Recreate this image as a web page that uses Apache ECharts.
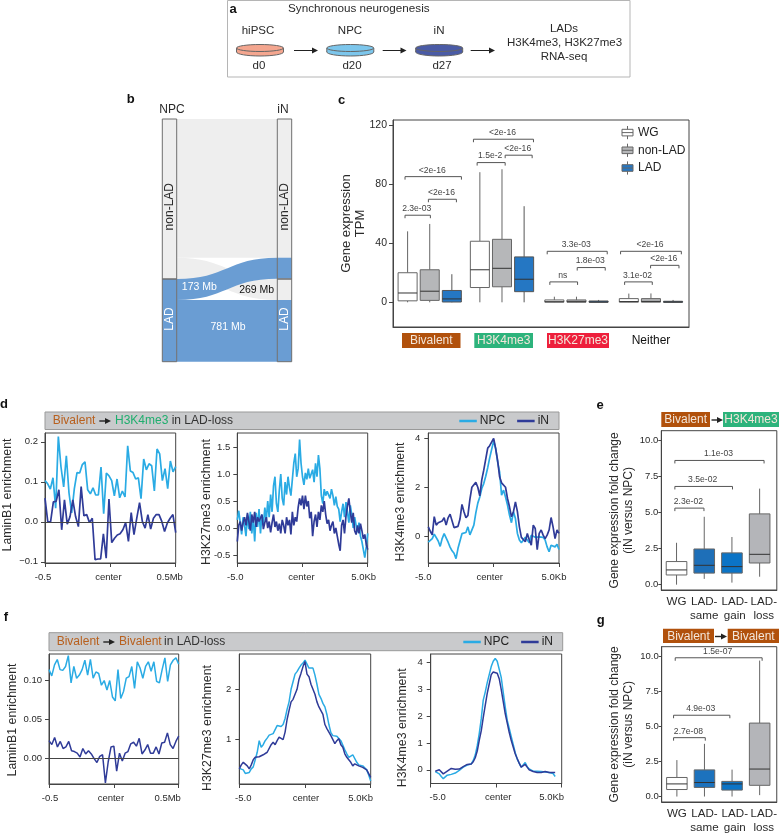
<!DOCTYPE html>
<html><head><meta charset="utf-8">
<style>html,body{margin:0;padding:0;background:#fff}#c{width:780px;height:835px}</style>
<script src="https://cdn.jsdelivr.net/npm/echarts@6/dist/echarts.min.js"></script>
</head><body><div id="c"></div>
<script>
// ---------- data ----------
const sankeyFlowLabels = ['173 Mb','269 Mb','781 Mb'];
const sankeyThickness = [1755, 269, 266, 781];

// panel c: [low, q1, median, q3, high] per group
const cGroups = ['Bivalent','H3K4me3','H3K27me3','Neither'];
const cWG = [[0,1,6.3,20,48],[0,10,22,41.3,88],[0,0.1,0.4,1.6,3.8],[0,0.1,0.5,2.5,5.9]];
const cNon = [[0,1.3,7.5,22,53],[0,10.5,23,42.6,90],[0,0.1,0.4,1.6,3.8],[0,0.1,0.6,2.5,6]];
const cLad = [[0,0.2,2.3,8,19],[0,7.2,15.6,30.7,65],[0,0.05,0.2,0.9,1.6],[0,0.05,0.2,0.7,1.6]];
const cBrackets = [
 [-.335,.43,85,'<2e-16'],[-.018,.362,69.7,'<2e-16'],[-.335,.009,58.9,'2.3e-03'],
 [.593,1.407,110.3,'<2e-16'],[.643,1.023,94.5,'1.5e-2'],[1.023,1.389,99.5,'<2e-16'],
 [1.593,2.407,34.5,'3.3e-03'],[2.0,2.38,23.5,'1.8e-03'],[1.629,2.005,13.8,'ns'],
 [2.588,3.412,34.5,'<2e-16'],[2.995,3.38,25,'<2e-16'],[2.643,3.018,13.8,'3.1e-02']];

// panel d
const d1NPC = [.103,.095,.082,.11,.034,.213,.137,.087,.165,.072,.022,.083,.123,.122,.143,.15,.08,.07,.085,.067,.067,.137,.02,.122,.115,.103,.065,.107,.06,.077,.062,.19,.127,.123,.107,.11,.058,.157,.13,.145,.14,.077,.182,.17,.103,.133,.083,.152,.125,.138];
const d1iN = [.059,0,0,.05,.051,.08,-.02,.055,-.006,.013,.055,.013,-.012,.088,.015,.018,-.002,.009,-.095,-.093,-.093,-.03,-.091,.057,-.052,-.041,-.033,-.03,-.02,-.002,-.049,.023,-.032,.009,.048,.001,-.016,.018,-.018,.009,.018,.018,.001,-.024,-.003,.009,.018,-.027];
const d2NPC = [.15,.32,.1,-.12,.2,.05,-.15,.25,-.02,.3,-.1,.18,-.25,.28,.02,.35,-.1,.25,.05,.38,.15,.5,.2,.62,.3,.78,.95,.45,.3,.7,1.0,.55,.42,.85,.62,.95,.75,.6,.9,1.2,1.38,.95,1.1,1.64,1.2,.95,.8,1.02,.9,1.1,.92,1.0,1.08,.85,1.2,.95,1.35,1.1,.6,.45,.72,.6,.68,.7,.55,.72,.6,.42,.58,.4,.35,.12,.3,.45,.2,.48,.3,.1,.42,.25,0,.2,.05,-.08,.1,-.15,-.25,-.4,-.55,-.35,-.1];
const d2iN = [-.25,.05,.12,-.05,.1,.2,.05,.28,.12,-.05,.25,.1,.3,.02,.2,.12,.1,.25,-.02,.1,.2,0,.12,-.08,.1,.25,.02,.12,-.05,.08,-.1,.15,.05,-.1,.2,.05,.15,-.12,.3,.05,.2,.12,.38,.55,.42,.6,.35,.6,.4,.5,.18,.3,-.15,.12,.25,.02,.3,.15,.42,.3,.5,.25,.08,.15,-.05,.05,.12,-.1,0,-.15,-.3,-.42,.05,.15,-.1,.22,.4,.55,.3,.1,.28,-.05,-.12,.05,-.1,.08,-.05,-.2,-.12,-.3,-.4];
const d3NPC = [-.25,-.18,-.1,.08,.05,-.2,-.42,-.1,.1,.05,-.25,-.45,-.6,-.7,-.92,-.5,-.2,.1,.05,.15,.38,.05,0,.45,.95,1.35,1.6,1.95,2.15,2.45,2.8,3.2,3.55,3.9,3.59,3.04,2.63,1.68,1.88,1.6,1.27,.86,.55,1,.72,.11,-.16,-.27,-.16,-.05,-.16,-.27,.04,.08,-.05,0,-.03,.04,-.05,-.16,-.44,-.64,-.37,-.3,-.44,-.33,-.55];
const d3iN = [.38,.2,.05,.8,.45,.55,.6,.62,.75,.45,.75,.9,.9,.35,.35,.4,.7,1.3,1,.75,.85,1.5,2,1.95,2.2,2,1.65,2.3,2.7,2.75,3.6,3.7,3.75,4,3.59,3.1,2.43,2.18,2.15,2,1.54,1.2,.79,1,1.4,1,.38,-.05,-.1,-.23,.11,-.16,-.37,.45,.31,-.55,.11,.25,.04,-.1,.04,.25,.76,.38,-.1,.25,.11];

// panel f
const f1NPC = [.114,.106,.12,.127,.114,.113,.118,.132,.097,.118,.103,.107,.114,.126,.107,.127,.103,.111,.109,.094,.1,.088,.1,.079,.074,.114,.077,.086,.103,.105,.118,.09,.124,.116,.103,.118,.124,.112,.124,.099,.097,.114,.129,.099,.12,.126,.129,.121];
const f1iN = [.023,.018,.027,.015,.022,.013,.015,.022,.01,.009,.007,.002,.013,.006,.01,.006,0,-.005,.003,.005,-.031,-.004,.015,.016,-.016,.007,-.003,.007,.009,.019,.021,.016,.026,.006,.011,.018,.007,.007,.015,.006,.02,.021,.033,.018,.013,.022,.029];
const f2NPC = [.43,.44,.4,.33,.32,.35,.42,.46,.6,.75,.98,.85,.9,.98,1.03,1.09,1.07,1.12,1.2,1.28,1.3,1.26,1.3,1.42,1.6,1.75,2,2.15,2.3,2.35,2.42,2.48,2.52,2.58,2.5,2.42,2.45,2.42,2.28,2.1,1.9,1.82,1.72,1.65,1.5,1.3,1.14,1.08,1.1,1.07,1.1,.98,.95,.8,.72,.65,.68,.7,.72,.55,.5,.47,.48,.45,.4,.3,.18];
const f2iN = [.42,.5,.55,.56,.48,.42,.5,.6,.65,.64,.66,.65,.7,.68,.75,.72,.9,.95,.9,.98,1.05,1.02,1,1.15,1.4,1.58,1.75,1.8,1.8,2,2.2,2.32,2.45,2.55,2.3,2.25,2.1,2.12,1.9,1.75,1.65,1.62,1.5,1.3,1.22,1.2,1.08,1,.92,.98,1.02,.9,.85,.72,.65,.6,.55,.48,.52,.55,.48,.5,.45,.42,.4,.38,.25];
const f3NPC = [-.07,-.05,-.15,-.25,-.33,-.3,-.2,-.14,-.17,-.15,-.12,-.1,-.02,.05,.1,.17,.18,.2,.22,.35,.55,.9,1.35,1.9,2.6,2.9,3.25,3.55,3.85,4.05,4.15,4.05,3.75,3.45,2.9,2.35,1.85,1.55,1.25,.95,.65,.4,.25,.1,.1,.27,.12,.03,-.02,-.05,-.08,-.05,-.1,-.06,-.1,-.08,-.12,-.1,-.12,-.14,-.25];
const f3iN = [-.05,0,0,-.05,-.15,-.1,-.05,-.02,.05,.08,.02,-.03,.03,.08,.12,.18,.2,.2,.22,.3,.45,.7,1.1,1.45,1.95,2.4,2.85,3.2,3.55,3.65,3.65,3.6,3.4,3,2.55,2.1,1.75,1.4,1.1,.85,.6,.42,.25,.1,.05,.2,.1,0,-.02,-.06,-.08,-.1,-.06,-.1,-.08,-.06,-.1,-.1,-.08,-.1,-.1];

// panels e, g
const boxCats = ['WG','LAD-\nsame','LAD-\ngain','LAD-\nloss'];
const eBoxes = [[0,.67,1.02,1.6,2.9],[.4,.8,1.34,2.47,4.7],[.14,.8,1.25,2.2,3.3],[.55,1.5,2.1,4.9,6.65]];
const gBoxes = [[0,.5,.9,1.36,2.6],[0,.65,1,1.9,3.76],[0,.46,.9,1.08,1.92],[.1,.8,1.96,5.24,9.7]];
const eBrackets = [[-.06,3.16,8.6,'1.1e-03'],[-.06,2.02,6.8,'3.5e-02'],[-.06,.99,5.3,'2.3e-02']];
const gBrackets = [[-.06,3.09,9.9,'1.5e-07'],[-.12,1.92,5.8,'4.9e-03'],[-.12,1.03,4.2,'2.7e-08']];
const boxTicks = [0,2.5,5,7.5,10];
const boxTickLabels = ['0.0','2.5','5.0','7.5','10.0'];

// ---------- styles ----------
const FONT = '"Liberation Sans", Arial, sans-serif';
const NPC = '#2aabe4', IN = '#2f3b98';
const BROWN = '#b1510c', GREEN = '#2db37c', RED = '#ee1f3c';
const AXIS = '#444', TXT = '#2a2a2a';

const grids=[], xAxes=[], yAxes=[], series=[];

function addGrid(f){ grids.push({left:f[0],top:f[1],width:f[2]-f[0],height:f[3]-f[1],show:true,borderColor:AXIS,borderWidth:1,backgroundColor:'transparent'}); return grids.length-1; }

function yAxisOf(g,min,max,ticks,labels,name,gap,size,nameSize,margin,shift){
 const s=shift||0;
 yAxes.push({type:'value',gridIndex:g,min,max,name,nameLocation:'middle',nameGap:gap,nameRotate:90,
  nameMoveOverlap:false,
  nameTextStyle:{fontFamily:FONT,fontSize:nameSize||12.3,color:TXT,lineHeight:14,padding:[0,s>0?2*s:0,0,s<0?-2*s:0]},
  splitLine:{show:false},axisLine:{show:true,onZero:false,lineStyle:{color:AXIS}},
  axisTick:{show:true,length:margin>=6?4:3,customValues:ticks,lineStyle:{color:AXIS}},
  axisLabel:{show:true,customValues:ticks,margin:margin||4,fontFamily:FONT,fontSize:size||9.5,color:TXT,hideOverlap:false,
   formatter:v=>labels[ticks.indexOf(v)]}});
 return yAxes.length-1;
}

function lineX(g,min,max,labels,shifts){
 const ticks=[min,(min+max)/2,max];
 const rich={};
 shifts.forEach((s,i)=>{rich['s'+i]={fontFamily:FONT,fontSize:9.5,color:TXT,padding:[0,s<0?-2*s:0,0,s>0?2*s:0]};});
 xAxes.push({type:'value',gridIndex:g,min,max,splitLine:{show:false},
  axisLine:{show:true,onZero:false,lineStyle:{color:AXIS}},
  axisTick:{show:true,length:4,customValues:ticks,lineStyle:{color:AXIS}},
  axisLabel:{show:true,customValues:ticks,margin:9,hideOverlap:false,
   formatter:v=>{const i=ticks.indexOf(v);return '{s'+i+'|'+labels[i]+'}';},rich}});
 return xAxes.length-1;
}

function trace(name,color,xi,yi,span,vals,zero,w){
 const n=vals.length;
 const s={type:'line',name,xAxisIndex:xi,yAxisIndex:yi,showSymbol:false,silent:true,
  lineStyle:{color,width:w||1.7},itemStyle:{color},
  data:vals.map((v,i)=>[span[0]+(span[1]-span[0])*i/(n-1),v])};
 if(zero) s.markLine={silent:true,symbol:'none',animation:false,label:{show:false},lineStyle:{color:AXIS,width:1,type:'solid'},data:[{yAxis:0}]};
 series.push(s);
}

function linePanel(f,ymin,ymax,ticks,labels,name,gap,nameShift,yMargin,xmin,xmax,xl,shifts,a,b,span,w){
 const g=addGrid(f);
 const xi=lineX(g,xmin,xmax,xl,shifts);
 const yi=yAxisOf(g,ymin,ymax,ticks,labels,name,gap,9.5,12.3,yMargin,nameShift);
 trace('NPC',NPC,xi,yi,span,a,false,w);
 trace('iN',IN,xi,yi,span,b,name.startsWith('Lamin'),w);
}

function boxSeries(name,xi,yi,rows,xOf,width,fill,stroke){
 series.push({type:'custom',name,xAxisIndex:xi,yAxisIndex:yi,silent:true,clip:false,
  itemStyle:{color:fill,borderColor:stroke,borderWidth:1},
  encode:{x:0,y:[1,2,3,4,5]},
  data:rows.map((r,i)=>[xOf(i),...r]),
  renderItem:(p,api)=>{
   const x=api.value(0);
   const P=v=>api.coord([x,v]);
   const w=api.size([width,0])[0];
   const cx=P(0)[0],lo=P(api.value(1))[1],q1=P(api.value(2))[1],med=P(api.value(3))[1],q3=P(api.value(4))[1],hi=P(api.value(5))[1];
   const ln={stroke,lineWidth:1,fill:null};
   return {type:'group',children:[
    {type:'line',shape:{x1:cx,y1:hi,x2:cx,y2:q3},style:ln},
    {type:'line',shape:{x1:cx,y1:q1,x2:cx,y2:lo},style:ln},
    {type:'rect',shape:{x:cx-w/2,y:q3,width:w,height:Math.max(q1-q3,1)},style:{fill,stroke,lineWidth:1}},
    {type:'line',shape:{x1:cx-w/2,y1:med,x2:cx+w/2,y2:med},style:{stroke:'#333',lineWidth:1}}
   ]};
  }});
}

function bracketSeries(xi,yi,rows){
 series.push({type:'custom',name:'p-values',xAxisIndex:xi,yAxisIndex:yi,silent:true,clip:false,z:5,
  encode:{x:[0,1],y:2},
  data:rows.map(r=>[r[0],r[1],r[2]]),
  renderItem:(p,api)=>{
   const a=api.coord([api.value(0),api.value(2)]),b=api.coord([api.value(1),api.value(2)]);
   return {type:'group',children:[
    {type:'polyline',shape:{points:[[a[0],a[1]+3],[a[0],a[1]],[b[0],b[1]],[b[0],b[1]+3]]},style:{stroke:'#555',lineWidth:1,fill:null}},
    {type:'text',style:{text:rows[p.dataIndex][3],x:(a[0]+b[0])/2-1,y:a[1]-6.5,fontFamily:FONT,fontSize:8.6,fill:'#444',textAlign:'center',textVerticalAlign:'middle'}}
   ]};
  }});
}

// ---------- panel b: sankey ----------
series.push({type:'sankey',left:162.3,top:119,width:129.4,height:242.7,nodeWidth:14.4,nodeGap:0,layoutIterations:0,nodeAlign:'justify',silent:true,
 label:{show:false},emphasis:{disabled:true},
 data:[
  {name:'NPC non-LAD',itemStyle:{color:'#eeeeee'}},
  {name:'NPC LAD',itemStyle:{color:'#6a9dd3'}},
  {name:'iN non-LAD stable',itemStyle:{color:'#eeeeee'}},
  {name:'iN non-LAD gained',itemStyle:{color:'#6a9dd3'}},
  {name:'iN LAD gained',itemStyle:{color:'#eeeeee'}},
  {name:'iN LAD stable',itemStyle:{color:'#6a9dd3'}}],
 links:[
  {source:'NPC non-LAD',target:'iN non-LAD stable',value:sankeyThickness[0],lineStyle:{color:'#eeeeee',opacity:1}},
  {source:'NPC non-LAD',target:'iN LAD gained',value:sankeyThickness[1],lineStyle:{color:'#eeeeee',opacity:1}},
  {source:'NPC LAD',target:'iN non-LAD gained',value:sankeyThickness[2],lineStyle:{color:'#6a9dd3',opacity:1}},
  {source:'NPC LAD',target:'iN LAD stable',value:sankeyThickness[3],lineStyle:{color:'#6a9dd3',opacity:1}}]});

// ---------- panel c ----------
{
 const g=addGrid([393,120,689,327]);
 xAxes.push({type:'value',gridIndex:g,min:-.498,max:3.516,splitLine:{show:false},axisTick:{show:false},axisLabel:{show:false},axisLine:{show:true,onZero:false,lineStyle:{color:AXIS}}});
 const xi=xAxes.length-1;
 const yi=yAxisOf(g,-16.7,123.3,[0,40,80,120],['0','40','80','120'],'Gene expression\nTPM',26,10.5,13,6);
 const c=[0,.98,1.99,3];
 boxSeries('WG',xi,yi,cWG,i=>c[i]-.3,.258,'#ffffff','#666');
 boxSeries('non-LAD',xi,yi,cNon,i=>c[i],.258,'#b6b7b9','#666');
 boxSeries('LAD',xi,yi,cLad,i=>c[i]+.3,.258,'#2577c3','#555');
 bracketSeries(xi,yi,cBrackets);
}

// ---------- panels d, f ----------
const scaleKb=['-5.0','center','5.0Kb'];
const scaleMb=['-0.5','center','0.5Mb'];
linePanel([45,433,175.7,563],-.103,.222,[-.1,0,.1,.2],['\u22120.1','0.0','0.1','0.2'],'LaminB1 enrichment',30,-3,7,-.5,.5,scaleMb,[-2,-2,-6],d1NPC,d1iN,[-.5,.5]);
linePanel([237.3,433,367.7,563],-.648,1.76,[-.5,0,.5,1,1.5],['-0.5','0.0','0.5','1.0','1.5'],'H3K27me3 enrichment',24,4,7,-5,5,scaleKb,[-2,-1,-4],d2NPC,d2iN,[-5,5]);
linePanel([428.3,433,559,563],-1.1,4.22,[0,2,4],['0','2','4'],'H3K4me3 enrichment',21,4,8,-5,5,scaleKb,[-5,-4,-5],d3NPC,d3iN,[-5,5]);
linePanel([49,654,178.7,784],-.0325,.134,[0,.05,.1],['0.00','0.05','0.10'],'LaminB1 enrichment',29,1,7,-.5,.5,scaleMb,[1,-3,-11],f1NPC,f1iN,[-.5,.5],1.5);
linePanel([239.3,654,370.7,784],.12,2.7,[1,2],['1','2'],'H3K27me3 enrichment',25,9,8,-5,5,scaleKb,[4,1,-10],f2NPC,f2iN,[-5,5],1.5);
linePanel([430.7,654,561.7,783.5],-.51,4.32,[0,1,2,3,4],['0','1','2','3','4'],'H3K4me3 enrichment',21,9,8,-5,5,scaleKb,[7,2,-10],f3NPC,f3iN,[-4.65,4.5],1.5);

// ---------- panels e, g ----------
function foldPanel(f,ymin,ymax,rows,fills,brackets){
 const g=addGrid(f);
 const t=[0,1,2.1,3.15];
 xAxes.push({type:'value',gridIndex:g,min:-.55,max:3.62,splitLine:{show:false},axisTick:{show:false},
  axisLine:{show:true,onZero:false,lineStyle:{color:AXIS}},
  axisLabel:{show:true,customValues:t,margin:5,hideOverlap:false,fontFamily:FONT,fontSize:11.6,color:TXT,lineHeight:14,verticalAlign:'top',formatter:v=>boxCats[t.indexOf(v)]}});
 const xi=xAxes.length-1;
 const yi=yAxisOf(g,ymin,ymax,boxTicks,boxTickLabels,'Gene expression fold change\n(iN versus NPC)',26,9.5,12,3);
 rows.forEach((r,i)=>boxSeries(boxCats[i].replace('\n',''),xi,yi,[r],()=>i,.744,fills[i],'#666'));
 bracketSeries(xi,yi,brackets);
}
foldPanel([661.3,430.7,779,590],-.37,10.66,eBoxes,['#ffffff','#1e6fb8','#0b74c6','#b4b5b9'],eBrackets);
foldPanel([661.7,646.7,779,806.7],-.39,10.69,gBoxes,['#ffffff','#1c72bd','#0b74c6','#b4b5b9'],gBrackets);

// ---------- annotation graphics ----------
const G=[];
const T=(x,y,text,size,fill,o)=>G.push(Object.assign({type:'text',x,y,z:10,silent:true,style:{text,fontFamily:FONT,fontSize:size,fill:fill||TXT,textAlign:'center',textVerticalAlign:'middle',fontWeight:(o&&o.bold)?'bold':'normal'}},o&&o.rot?{rotation:o.rot}:{}));
const TL=(x,y,text,size,fill)=>G.push({type:'text',x,y,z:10,silent:true,style:{text,fontFamily:FONT,fontSize:size,fill:fill||TXT,textAlign:'left',textVerticalAlign:'middle'}});
const R=(x,y,w,h,fill,stroke,z)=>G.push({type:'rect',z:z===undefined?10:z,silent:true,shape:{x,y,width:w,height:h},style:{fill,stroke:stroke||null,lineWidth:1}});
const Arrow=(x1,x2,y,c,lw)=>{
 G.push({type:'line',z:10,silent:true,shape:{x1,y1:y,x2:x2-4,y2:y},style:{stroke:c||'#222',lineWidth:lw||1}});
 G.push({type:'polygon',z:10,silent:true,shape:{points:[[x2-6,y-3],[x2,y],[x2-6,y+3]]},style:{fill:c||'#222'}});
};
const Tag=(x1,x2,y1,y2,fill,text,size)=>{R(x1,y1,x2-x1,y2-y1,fill,null);T((x1+x2)/2,(y1+y2)/2+.5,text,size||12,'#f3e6da');};
const Disk=(cx,fill)=>{
 const rx=23.5;
 G.push({type:'ellipse',z:10,silent:true,shape:{cx,cy:52,rx,ry:4},style:{fill,stroke:'#666',lineWidth:1}});
 G.push({type:'rect',z:10,silent:true,shape:{x:cx-rx,y:48,width:2*rx,height:4},style:{fill}});
 G.push({type:'line',z:10,silent:true,shape:{x1:cx-rx,y1:48,x2:cx-rx,y2:52},style:{stroke:'#666'}});
 G.push({type:'line',z:10,silent:true,shape:{x1:cx+rx,y1:48,x2:cx+rx,y2:52},style:{stroke:'#666'}});
 G.push({type:'ellipse',z:10,silent:true,shape:{cx,cy:48,rx,ry:3.5},style:{fill,stroke:'#666',lineWidth:1}});
};
// panel a
R(227.5,.5,402.5,76.5,'#fff','#b5b5b5',0);
T(233,9,'a',13,'#111',{bold:true});
TL(288,9,'Synchronous neurogenesis',11.7);
T(258,31,'hiPSC',11.5); T(350,31,'NPC',11.5); T(439,31,'iN',11.5);
Disk(260,'#f4a68f'); Disk(350.3,'#7cc6ec'); Disk(439.2,'#4a5ba6');
T(259,66,'d0',11.5); T(352,66,'d20',11.5); T(442,66,'d27',11.5);
Arrow(294,318,50.5); Arrow(382.7,406.5,50.5); Arrow(470.7,495,50.5);
T(564,29,'LADs',11.5); T(564.5,43,'H3K4me3, H3K27me3',11.5); T(564,57,'RNA-seq',11.5);
// panel b
T(130.7,99,'b',13,'#111',{bold:true});
T(172,110,'NPC',12); T(283,110,'iN',12);
[[162.3,119,14.4,160],[162.3,279,14.4,82.7],[277.3,119,14.4,160],[277.3,279,14.4,82.7]].forEach(r=>R(r[0],r[1],r[2],r[3],null,'#6e6e6e'));
T(169.5,206.7,'non-LAD',12,TXT,{rot:Math.PI/2}); T(284.2,206.7,'non-LAD',12,TXT,{rot:Math.PI/2});
T(169.5,319,'LAD',12,'#fff',{rot:Math.PI/2}); T(284.2,319,'LAD',12,'#fff',{rot:Math.PI/2});
T(199.3,287,sankeyFlowLabels[0],10.5,'#fff'); T(256.7,290,sankeyFlowLabels[1],10.5,'#111'); T(228,327,sankeyFlowLabels[2],10.5,'#fff');
// panel c
T(341.7,100,'c',13,'#111',{bold:true});
Tag(402,460.5,333,348,BROWN,cGroups[0]); Tag(474.3,533,333,348,GREEN,cGroups[1]); Tag(547,609,333,348,RED,cGroups[2]);
T(651,341,cGroups[3],12,'#111');
// panel d
T(4,404,'d',13,'#111',{bold:true});
R(45,412,514,17.5,'#c9cacc','#999',0);
TL(52.7,421,'Bivalent',12,'#b8601e'); Arrow(99.3,111,421,'#222',1.4); TL(115,421,'H3K4me3',12,'#1fae6e'); TL(171.7,421,'in LAD-loss',12,'#333');
// panel e
T(600,405,'e',13,'#111',{bold:true});
Tag(661.3,710,412,427,BROWN,'Bivalent'); Arrow(711.5,723,420,'#222',1.4); Tag(723,779,412,427,GREEN,'H3K4me3');
// panel f
T(6,617,'f',13,'#111',{bold:true});
R(49,632.7,513.7,18,'#c9cacc','#999',0);
TL(56.7,642,'Bivalent',12,'#b8601e'); Arrow(103.3,115,642,'#222',1.4); TL(119,642,'Bivalent',12,'#b8601e'); TL(164,642,'in LAD-loss',12,'#333');
// panel g
T(600.7,620,'g',13,'#111',{bold:true});
Tag(663,714,628.7,643,BROWN,'Bivalent'); Arrow(715,727,636.5,'#222',1.4); Tag(727.7,779,628.7,643,BROWN,'Bivalent');

const boxIcon='path://M0 3H10V9H0Z M0 6H10 M5 0V3 M5 9V12';
const lineLegend=(left,top)=>({data:['NPC','iN'],left,top,icon:'rect',itemWidth:17.5,itemHeight:2.5,itemGap:12,selectedMode:false,padding:0,
 textStyle:{fontFamily:FONT,fontSize:12,color:'#222',padding:[1,0,0,-2]},itemStyle:{borderWidth:0}});

const chart=echarts.init(document.getElementById('c'),null,{renderer:'canvas'});
chart.setOption({
 animation:false,backgroundColor:'#fff',textStyle:{fontFamily:FONT},
 tooltip:{show:false},
 legend:[
  {data:['WG','non-LAD','LAD'],orient:'vertical',left:621.5,top:125.5,icon:boxIcon,itemWidth:11,itemHeight:13.5,itemGap:3.5,selectedMode:false,padding:0,
   textStyle:{fontFamily:FONT,fontSize:12,color:'#222'},itemStyle:{borderWidth:1,borderColor:'#666'}},
  lineLegend(459.3,415),lineLegend(463.3,636)
 ],
 grid:grids,xAxis:xAxes,yAxis:yAxes,series,
 graphic:{elements:G}
});
</script></body></html>
